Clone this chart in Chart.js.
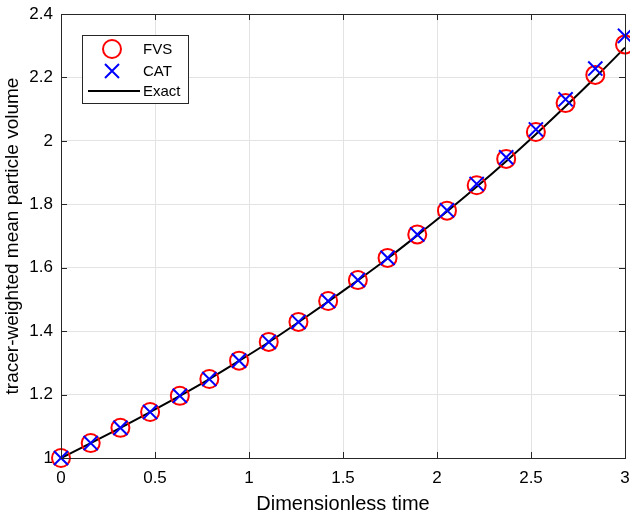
<!DOCTYPE html>
<html>
<head>
<meta charset="utf-8">
<script src="https://cdn.jsdelivr.net/npm/chart.js@4"></script>
<style>
  html, body { margin: 0; padding: 0; background: #fff; }
  #wrap { width: 630px; height: 513px; position: relative; }
</style>
</head>
<body>
<div id="wrap"><canvas id="myChart" width="630" height="513"></canvas></div>
<script>
// values
const timeVals = [0, 0.158, 0.316, 0.474, 0.632, 0.789, 0.947, 1.105, 1.263, 1.421,
  1.579, 1.737, 1.895, 2.053, 2.211, 2.368, 2.526, 2.684, 2.842, 3.0];
const fvsVals = [1.0, 1.047, 1.095, 1.145, 1.196, 1.249, 1.307, 1.366, 1.429, 1.495,
  1.561, 1.631, 1.705, 1.780, 1.860, 1.943, 2.028, 2.119, 2.208, 2.304];
const catVals = [1.0, 1.047, 1.095, 1.145, 1.196, 1.249, 1.307, 1.366, 1.429, 1.495,
  1.561, 1.631, 1.705, 1.781, 1.864, 1.948, 2.036, 2.131, 2.228, 2.331];
const exactVals = [1.0, 1.047, 1.095, 1.145, 1.196, 1.249, 1.306, 1.365, 1.428, 1.493,
  1.560, 1.629, 1.702, 1.777, 1.855, 1.936, 2.021, 2.109, 2.200, 2.294];
const xTicks = [0, 0.5, 1, 1.5, 2, 2.5, 3];
const yTicks = [1, 1.2, 1.4, 1.6, 1.8, 2, 2.2, 2.4];
const legendNames = ["FVS", "CAT", "Exact"];

const axisColor = "#262626";
const fontFamily = "'Liberation Sans', Arial, sans-serif";

function toPoints(xs, ys) {
  return xs.map((x, i) => ({ x: x, y: ys[i] }));
}

// box round the plot area with inward ticks on all four sides, plus the legend
const boxPlugin = {
  id: "boxPlugin",
  afterDatasetsDraw(chart) {
    const ctx = chart.ctx;
    const a = chart.chartArea;
    const xs = chart.scales.x;
    const ys = chart.scales.y;
    ctx.save();
    ctx.strokeStyle = axisColor;
    ctx.lineWidth = 1;
    ctx.beginPath();
    ctx.rect(Math.round(a.left) + 0.5, Math.round(a.top) + 0.5,
      Math.round(a.right - a.left), Math.round(a.bottom - a.top));
    xTicks.forEach((t) => {
      const px = Math.round(xs.getPixelForValue(t)) + 0.5;
      ctx.moveTo(px, a.bottom); ctx.lineTo(px, a.bottom - 6);
      ctx.moveTo(px, a.top); ctx.lineTo(px, a.top + 6);
    });
    yTicks.forEach((t) => {
      const py = Math.round(ys.getPixelForValue(t)) + 0.5;
      ctx.moveTo(a.left, py); ctx.lineTo(a.left + 6, py);
      ctx.moveTo(a.right, py); ctx.lineTo(a.right - 6, py);
    });
    ctx.stroke();

    // legend
    const lx = 82.5, ly = 35.5, lw = 106, lh = 68;
    ctx.fillStyle = "#fff";
    ctx.fillRect(lx, ly, lw, lh);
    ctx.strokeStyle = axisColor;
    ctx.strokeRect(lx, ly, lw, lh);
    const rows = [49, 71, 91];
    ctx.lineWidth = 2;
    ctx.strokeStyle = "#ff0000";
    ctx.beginPath();
    ctx.arc(112, rows[0], 9, 0, Math.PI * 2);
    ctx.stroke();
    ctx.strokeStyle = "#0000ff";
    ctx.beginPath();
    ctx.moveTo(105, rows[1] - 7); ctx.lineTo(119, rows[1] + 7);
    ctx.moveTo(119, rows[1] - 7); ctx.lineTo(105, rows[1] + 7);
    ctx.stroke();
    ctx.strokeStyle = "#000";
    ctx.beginPath();
    ctx.moveTo(88, rows[2]); ctx.lineTo(140, rows[2]);
    ctx.stroke();
    ctx.fillStyle = "#000";
    ctx.font = "15px " + fontFamily;
    ctx.textBaseline = "middle";
    legendNames.forEach((name, i) => ctx.fillText(name, 143, rows[i] + 1));
    ctx.restore();
  },
};

const ctx = document.getElementById("myChart").getContext("2d");
const myChart = new Chart(ctx, {
  type: "scatter",
  data: {
    datasets: [
      {
        label: legendNames[2],
        data: toPoints(timeVals, exactVals),
        showLine: true,
        borderColor: "#000",
        borderWidth: 2,
        pointRadius: 0,
        cubicInterpolationMode: "monotone",
        clip: false,
        order: 3,
      },
      {
        label: legendNames[0],
        data: toPoints(timeVals, fvsVals),
        pointStyle: "circle",
        pointRadius: 9,
        pointBorderWidth: 2,
        borderColor: "#ff0000",
        backgroundColor: "rgba(0,0,0,0)",
        clip: false,
        order: 2,
      },
      {
        label: legendNames[1],
        data: toPoints(timeVals, catVals),
        pointStyle: "crossRot",
        pointRadius: 10,
        pointBorderWidth: 2,
        borderColor: "#0000ff",
        backgroundColor: "#0000ff",
        clip: false,
        order: 1,
      },
    ],
  },
  options: {
    responsive: false,
    animation: false,
    layout: { autoPadding: false, padding: { top: 14, right: 5, left: 0, bottom: 0 } },
    plugins: {
      legend: { display: false },
      tooltip: { enabled: false },
    },
    scales: {
      x: {
        type: "linear",
        min: 0,
        max: 3,
        afterBuildTicks: (s) => { s.ticks = xTicks.map((v) => ({ value: v })); },
        afterFit: (s) => {
          s.height = 55;
          s.paddingLeft = 0;
          s.paddingRight = 0;
        },
        grid: { color: "#e3e3e3", drawTicks: false },
        border: { color: axisColor },
        ticks: {
          color: "#000",
          padding: 10,
          maxRotation: 0,
          font: { family: fontFamily, size: 17 },
          callback: (v) => String(v),
        },
        title: {
          display: true,
          text: "Dimensionless time",
          color: "#000",
          font: { family: fontFamily, size: 20, lineHeight: 0.9 },
          padding: { top: 0, bottom: 0 },
        },
      },
      y: {
        type: "linear",
        min: 1,
        max: 2.4,
        afterBuildTicks: (s) => { s.ticks = yTicks.map((v) => ({ value: v })); },
        afterFit: (s) => {
          s.width = 61;
          s.paddingTop = 0;
          s.paddingBottom = 0;
        },
        grid: { color: "#e3e3e3", drawTicks: false },
        border: { color: axisColor },
        ticks: {
          color: "#000",
          padding: 8,
          font: { family: fontFamily, size: 17 },
          callback: (v) => String(v),
        },
        title: {
          display: true,
          text: "tracer-weighted mean particle volume",
          color: "#000",
          font: { family: fontFamily, size: 19, lineHeight: 1.1 },
          padding: { top: 2, bottom: 0 },
        },
      },
    },
  },
  plugins: [boxPlugin],
});
</script>
</body>
</html>
